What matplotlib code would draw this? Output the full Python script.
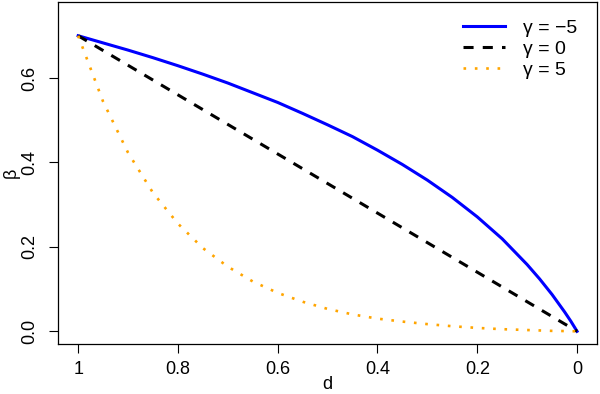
import matplotlib
matplotlib.use("Agg")
import matplotlib.pyplot as plt

plt.rcParams['font.family'] = ['Liberation Sans', 'DejaVu Sans']

# d values (x axis runs from 1 down to 0)
d = [1.0, 0.95, 0.9, 0.85, 0.8, 0.75, 0.7, 0.65, 0.6, 0.55, 0.5,
     0.45, 0.4, 0.35, 0.3, 0.25, 0.2, 0.15, 0.1, 0.075, 0.05, 0.025,
     0.0125, 0.0]

# beta for each gamma
beta_neg5 = [0.700, 0.683, 0.666, 0.648, 0.629, 0.609, 0.588, 0.565, 0.542,
             0.516, 0.489, 0.461, 0.429, 0.395, 0.358, 0.317, 0.271, 0.219,
             0.158, 0.124, 0.087, 0.046, 0.024, 0.0]
beta_0 = [0.700, 0.665, 0.630, 0.595, 0.560, 0.525, 0.490, 0.455, 0.420,
          0.385, 0.350, 0.315, 0.280, 0.245, 0.210, 0.175, 0.140, 0.105,
          0.070, 0.0525, 0.035, 0.0175, 0.009, 0.0]
beta_5 = [0.700, 0.544, 0.423, 0.328, 0.255, 0.197, 0.153, 0.118, 0.091,
          0.070, 0.053, 0.040, 0.030, 0.023, 0.017, 0.012, 0.008, 0.005,
          0.003, 0.002, 0.001, 0.0006, 0.0003, 0.0]

labels = ['\u03b3 = \u22125', '\u03b3 = 0', '\u03b3 = 5']

fig = plt.figure(figsize=(6.0, 3.94), dpi=100)
ax = fig.add_axes([0.097, 0.127, 0.898, 0.868])

ax.plot(d, beta_neg5, color='blue', lw=2.2, label=labels[0])
ax.plot(d, beta_0, color='black', lw=2.2, ls=(0, (3.3, 3.0)),
        dash_capstyle='butt', label=labels[1])
ax.plot(d, beta_5, color='orange', lw=1.9, ls=(0, (1, 3.3)),
        label=labels[2])

ax.set_xlim(1.04, -0.04)
ax.set_ylim(-0.03, 0.78)
ax.set_xticks([1, 0.8, 0.6, 0.4, 0.2, 0])
ax.set_xticklabels(['1', '0.8', '0.6', '0.4', '0.2', '0'])
ax.set_yticks([0.0, 0.2, 0.4, 0.6])
ax.set_yticklabels(['0.0', '0.2', '0.4', '0.6'], rotation=90, va='center')
ax.tick_params(labelsize=13, length=6.5, width=0.8)
ax.tick_params(axis='x', pad=5.5)
ax.tick_params(axis='y', pad=8)
for s in ax.spines.values():
    s.set_linewidth(0.9)

ax.set_xlabel('d', fontsize=13, labelpad=-1.5)
ax.set_ylabel('\u03b2', fontsize=13, labelpad=1)

ax.legend(loc='upper left', bbox_to_anchor=(0.772, 0.952),
          bbox_transform=fig.transFigure, frameon=False, fontsize=14,
          handlelength=2.15, handletextpad=0.9, labelspacing=0.18,
          borderpad=0, borderaxespad=0)

fig.savefig('out.png', dpi=100)
